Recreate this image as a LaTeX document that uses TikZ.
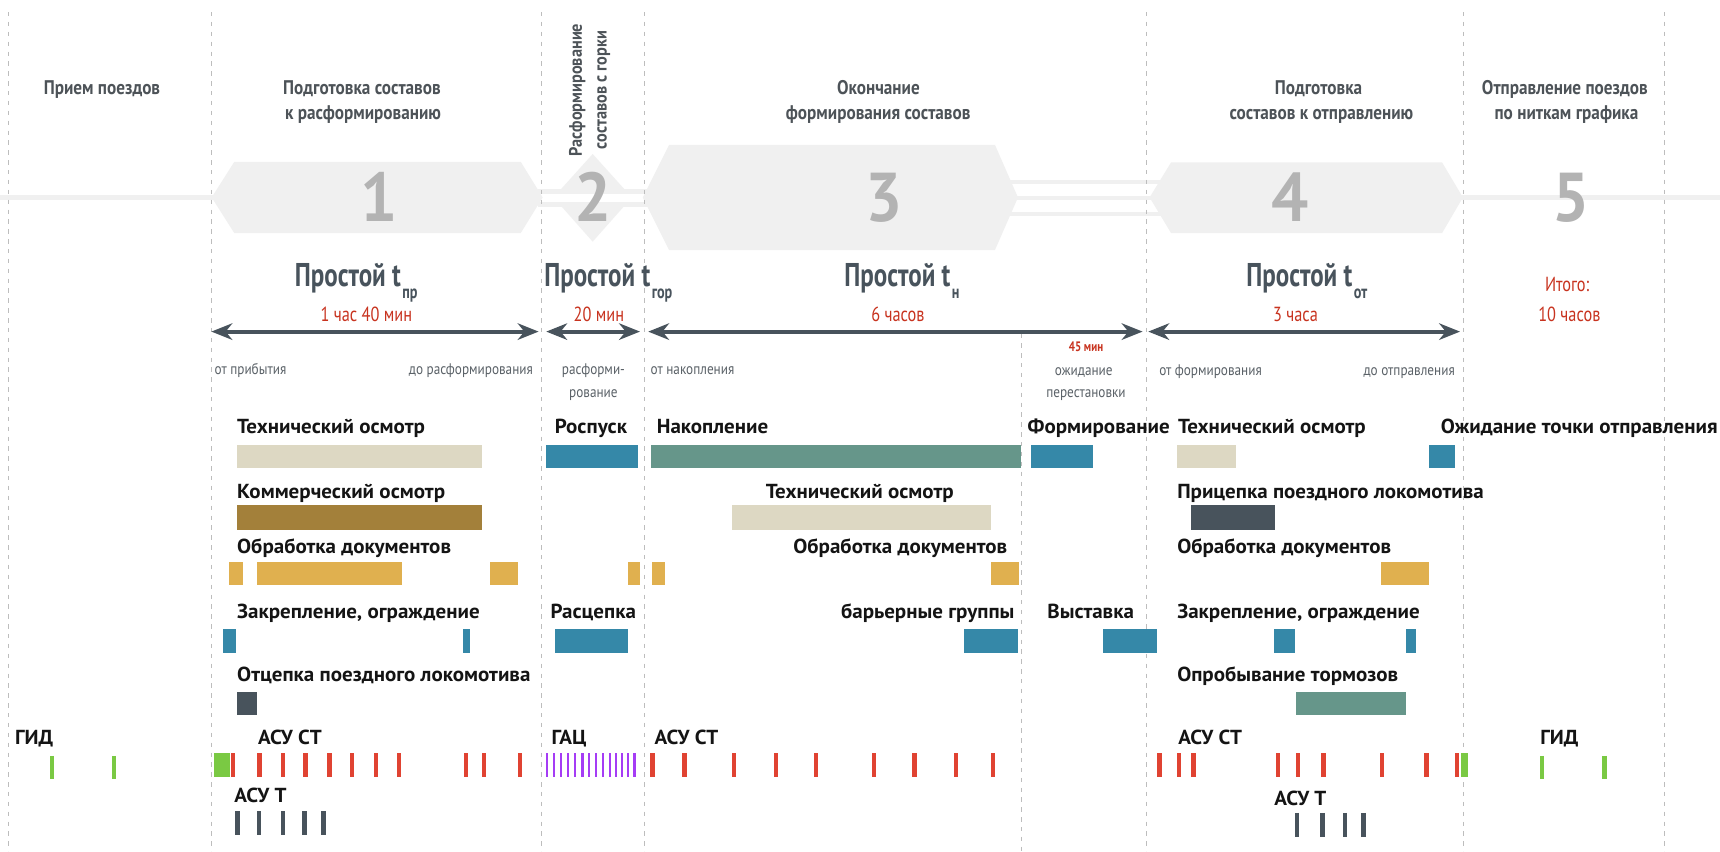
\documentclass[tikz,border=0pt]{standalone}
\usepackage{fontspec}
\usetikzlibrary{arrows.meta}
\setmainfont{PT Sans}
\newfontfamily\fLab[FakeStretch=1.035]{PT Sans}
\newfontfamily\fTurn[FakeStretch=0.9]{PT Sans}
\newfontfamily\fHead[FakeStretch=0.87]{PT Sans}
\newfontfamily\fBig[FakeStretch=0.76]{PT Sans}
\newfontfamily\fRed[FakeStretch=0.80]{PT Sans}
\newfontfamily\fNote[FakeStretch=0.86]{PT Sans}
\newfontfamily\fDig[FakeStretch=0.95]{PT Sans}

\definecolor{hexfill}{HTML}{F0F0F0}
\definecolor{digit}{HTML}{B3B3B3}
\definecolor{slate}{HTML}{48535C}
\definecolor{headtxt}{HTML}{4D5358}
\definecolor{notetxt}{HTML}{5B6268}
\definecolor{redtxt}{HTML}{C8331F}
\definecolor{gridln}{HTML}{BDBDBD}
\definecolor{beige}{HTML}{DDD8C3}
\definecolor{barbrown}{HTML}{A3803A}
\definecolor{mustard}{HTML}{E0B04F}
\definecolor{steel}{HTML}{3588A8}
\definecolor{sage}{HTML}{66968A}
\definecolor{tickred}{HTML}{E04332}
\definecolor{tickgreen}{HTML}{7AC943}
\definecolor{tickviolet}{HTML}{A53CF5}
\definecolor{labtxt}{HTML}{141414}

\tikzset{
  sepline/.style={gridln, line width=1.3pt, dash pattern=on 4pt off 5pt},
  track/.style={hexfill, line width=3.8pt},
  dig/.style={digit, font=\fDig\bfseries\fontsize{63}{63}\selectfont, anchor=base, inner sep=0pt},
  head/.style={headtxt, font=\fHead\bfseries\fontsize{18}{23}\selectfont, anchor=base, inner sep=0pt},
  big/.style={slate, font=\fBig\bfseries\fontsize{30}{30}\selectfont, anchor=base west, inner sep=0pt},
  bigsub/.style={slate, font=\fBig\bfseries\fontsize{17}{17}\selectfont, anchor=base west, inner sep=0pt, xshift=1pt, yshift=-11pt},
  dur/.style={redtxt, font=\fRed\fontsize{18.6}{20}\selectfont, anchor=base, inner sep=0pt},
  note/.style={notetxt, font=\fNote\fontsize{14}{16}\selectfont, anchor=base west, inner sep=0pt},
  lab/.style={labtxt, font=\fLab\bfseries\fontsize{18.5}{20}\selectfont, anchor=base west, inner sep=0pt},
  durarrow/.style={slate, line width=3.6pt,
    {Stealth[length=19pt,width=15pt,inset=6pt]}-{Stealth[length=19pt,width=15pt,inset=6pt]}},
  tk/.style={line width=4pt},
}

\begin{document}
\begin{tikzpicture}[x=1pt,y=-1pt]
\useasboundingbox (0,0) rectangle (1568,776);
\fill[white] (0,0) rectangle (1568,776);

% ---- track lines between the stage blocks ----
\draw[track] (0,180) -- (200,180);
\draw[track] (1325,180) -- (1568,180);
% stage 2 marker under the double track
\fill[hexfill] (540.3,140.4) -- (576,180) -- (540.3,220.3) -- (504.6,180) -- cycle;
\fill[white] (490,176.5) rectangle (592,184.5);
\draw[track] (490,174.5) -- (592,174.5);
\draw[track] (490,186.5) -- (592,186.5);
% triple track between stages 3 and 4
\draw[track] (915,166) -- (1060,166);
\draw[track] (915,180.3) -- (1060,180.3);
\draw[track] (915,195) -- (1060,195);

% ---- stage blocks ----
\fill[hexfill] (193,180) -- (213.6,147.5) -- (474.7,147.5) -- (494.7,180) -- (474.7,212.5) -- (213.6,212.5) -- cycle;
\fill[hexfill] (586,180) -- (610,132) -- (907,132) -- (928,180) -- (907,228) -- (610,228) -- cycle;
\fill[hexfill] (1048,180) -- (1067.6,148) -- (1314.6,148) -- (1333.6,180) -- (1314.6,212.5) -- (1067.6,212.5) -- cycle;

\node[dig] (d1) at (345.5,202) {1};
\node[dig] (d2) at (540.3,202) {2};
\node[dig] (d3) at (806,202) {3};
\node[dig] (d4) at (1176,202) {4};
\node[dig] (d5) at (1432,202) {5};

% ---- stage separators ----
\foreach \x in {7.7,193,493.8,587.4,1045.3,1334,1517.5}
  \draw[sepline] (\x,11) -- (\x,776);
\draw[sepline] (931.3,304) -- (931.3,776);

% ---- stage titles ----
\node[head] (h1) at (93,86) {Прием поездов};
\node[head] (h2a) at (330,86) {Подготовка составов};
\node[head] (h2b) at (331,109) {к расформированию};
\node[headtxt, font=\fTurn\bfseries\fontsize{16.5}{22.5}\selectfont, rotate=90, align=center, inner sep=0pt]
  (h3) at (537.5,82) {Расформирование\\составов с горки};
\node[head] (h4a) at (800.8,86) {Окончание};
\node[head] (h4b) at (800.6,109) {формирования составов};
\node[head] (h5a) at (1202,86) {Подготовка};
\node[head] (h5b) at (1204.6,109) {составов к отправлению};
\node[head] (h6a) at (1426.5,86) {Отправление поездов};
\node[head] (h6b) at (1428,109) {по ниткам графика};

% ---- dwell times ----
\node[big] (p1) at (268.6,261) {Простой t};
\node[bigsub] (p1s) at (p1.base east) {пр};
\node[big] (p2) at (496,261) {Простой t};
\node[bigsub] (p2s) at (p2.base east) {гор};
\node[big] (p3) at (769.6,261) {Простой t};
\node[bigsub] (p3s) at (p3.base east) {н};
\node[big] (p4) at (1136,261) {Простой t};
\node[bigsub] (p4s) at (p4.base east) {от};

\node[dur] (t1) at (334,293) {1 час 40 мин};
\node[dur] (t2) at (546,293) {20 мин};
\node[dur] (t3) at (818.6,293) {6 часов};
\node[dur] (t4) at (1181,293) {3 часа};
\node[dur] (tt1) at (1428.7,266) {Итого:};
\node[dur] (tt2) at (1430.7,293) {10 часов};
\node[redtxt, font=\fRed\bfseries\fontsize{12.5}{14}\selectfont, anchor=base, inner sep=0pt] (t45) at (990,320.6) {45 мин};

\coordinate (a1l) at (192.7,302.3); \coordinate (a1r) at (491,302.3);
\coordinate (a2l) at (498,302.3);   \coordinate (a2r) at (583.4,302.3);
\coordinate (a3l) at (590.9,302.3); \coordinate (a3r) at (1041.6,302.3);
\coordinate (a4l) at (1046.8,302.3);\coordinate (a4r) at (1331,302.3);
\draw[durarrow] (a1l) -- (a1r);
\draw[durarrow] (a2l) -- (a2r);
\draw[durarrow] (a3l) -- (a3r);
\draw[durarrow] (a4l) -- (a4r);

\node[note] (n1) at (195.5,341) {от прибытия};
\node[note, anchor=base east] (n2) at (486,341) {до расформирования};
\node[note, anchor=base] (n3a) at (541,341) {расформи-};
\node[note, anchor=base] (n3b) at (541,362) {рование};
\node[note] (n4) at (593,341) {от накопления};
\node[note, anchor=base] (n5a) at (988,342) {ожидание};
\node[note, anchor=base] (n5b) at (990,362) {перестановки};
\node[note] (n6) at (1056.6,342) {от формирования};
\node[note, anchor=base east] (n7) at (1326.4,342) {до отправления};

% ---- operations: row 1 ----
\fill[beige]   (216,405.6) rectangle (439,426.7);
\fill[steel]   (497.6,405.6) rectangle (582,426.7);
\fill[sage]    (593.4,405.6) rectangle (930.7,426.7);
\fill[steel]   (940,405.6) rectangle (996,426.7);
\fill[beige]   (1073,405.6) rectangle (1126.7,426.7);
\fill[steel]   (1303,405.6) rectangle (1326,426.7);
\node[lab] (r1a) at (216,395.6) {Технический осмотр};
\node[lab] (r1b) at (505.7,395.6) {Роспуск};
\node[lab] (r1c) at (598.6,395.6) {Накопление};
\node[lab] (r1d) at (936.7,395.6) {Формирование};
\node[lab] (r1e) at (1073.7,395.6) {Технический осмотр};
\node[lab] (r1f) at (1313.4,395.6) {Ожидание точки отправления};

% ---- row 2 ----
\fill[barbrown] (216,460.6) rectangle (439,483);
\fill[beige]    (667,460.6) rectangle (903,483);
\fill[slate]    (1086,460.6) rectangle (1162,483);
\node[lab] (r2a) at (216,454) {Коммерческий осмотр};
\node[lab] (r2b) at (698,454) {Технический осмотр};
\node[lab] (r2c) at (1073,454) {Прицепка поездного локомотива};

% ---- row 3 ----
\foreach \a/\b in {208.7/221.7,234.5/366.8,446.6/472,572.4/583.5,594.4/606.6,903/929,1258.6/1303}
  \fill[mustard] (\a,512) rectangle (\b,533);
\node[lab] (r3a) at (216,505) {Обработка документов};
\node[lab, anchor=base east] (r3b) at (918.5,505) {Обработка документов};
\node[lab] (r3c) at (1073,505) {Обработка документов};

% ---- row 4 ----
\foreach \a/\b in {203.4/215.3,422/428.6,506.4/572.4,878.8/927.6,1005.6/1055,1161.7/1180.8,1281.3/1290.8}
  \fill[steel] (\a,573.6) rectangle (\b,595);
\node[lab] (r4a) at (216,564) {Закрепление, ограждение};
\node[lab] (r4b) at (501.8,564) {Расцепка};
\node[lab, anchor=base east] (r4c) at (925,564) {барьерные группы};
\node[lab] (r4d) at (954.6,564) {Выставка};
\node[lab] (r4e) at (1073,564) {Закрепление, ограждение};

% ---- row 5 ----
\fill[slate] (215.6,630.5) rectangle (234,651.8);
\fill[sage]  (1181,630.5) rectangle (1281.3,651.8);
\node[lab] (r5a) at (216,621.7) {Отцепка поездного локомотива};
\node[lab] (r5b) at (1073,621.7) {Опробывание тормозов};

% ---- information systems ----
\node[lab] (s1) at (13.5,679) {ГИД};
\node[lab] (s2) at (235,679) {АСУ СТ};
\node[lab] (s3) at (502.6,679) {ГАЦ};
\node[lab] (s4) at (596.6,679) {АСУ СТ};
\node[lab] (s5) at (1074,679) {АСУ СТ};
\node[lab] (s6) at (1404,679) {ГИД};
\node[lab] (s7) at (213.5,732) {АСУ Т};
\node[lab] (s8) at (1161.5,734) {АСУ Т};

\fill[tickgreen] (195,686) rectangle (210,708);
\fill[tickgreen] (1331.5,686) rectangle (1338,708);
\foreach \x in {47.5,104,1405.5,1462.6}
  \draw[tk, tickgreen] (\x,689) -- (\x,710);
\foreach \x in {212.5,236.5,258,278.5,300.5,321,343,364,425,441,474,
                595,624,669,707.6,744,796.5,833.5,871.5,905.5,
                1057,1075,1088,1165,1183,1206.5,1260,1300.5,1328}
  \draw[tk, tickred] (\x,686.8) -- (\x,708);
\foreach \x in {498.6,505,511.5,518,524.5,531,537,543.5,550,556,561.5,567,572.5,578.5}
  \draw[line width=2pt, tickviolet] (\x,686.8) -- (\x,708);
\foreach \x in {216.5,236,258,277.5,295}
  \draw[tk, slate] (\x,739.4) -- (\x,761);
\foreach \x in {1182.4,1205.5,1226,1243}
  \draw[tk, slate] (\x,741) -- (\x,762.7);
\end{tikzpicture}
\end{document}
